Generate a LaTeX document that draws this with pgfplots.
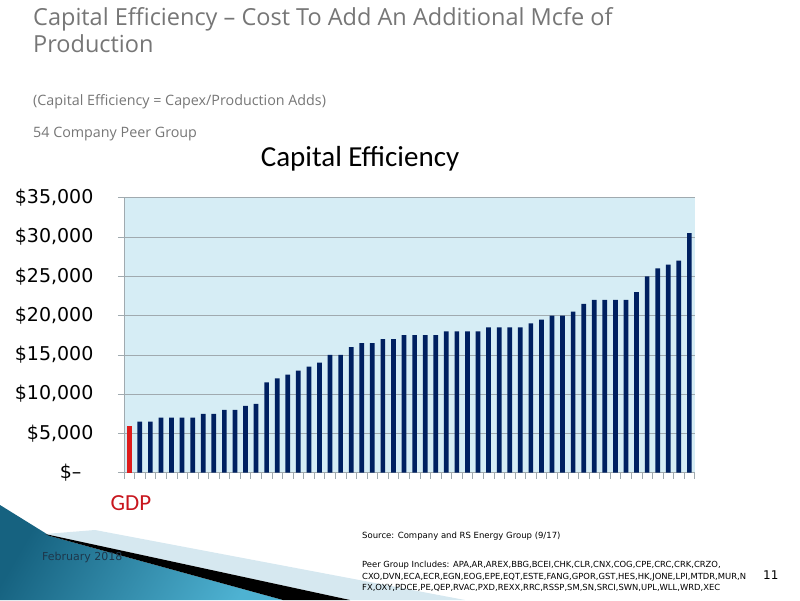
\documentclass[border=0pt]{standalone}
\usepackage{pgfplots}
\pgfplotsset{compat=1.18}
\usepackage{fontspec}
\setmainfont{DejaVu Sans}
\newfontfamily\titlefont{Open Sans}
\newfontfamily\calfont{Carlito}
\newfontfamily\tickfont{DejaVu Sans}

\definecolor{slidegray}{RGB}{118,118,118}
\definecolor{plotbg}{RGB}{214,237,245}
\definecolor{navybar}{RGB}{0,32,96}
\definecolor{gdpred}{RGB}{222,28,28}
\definecolor{gdptext}{RGB}{200,22,30}
\definecolor{gridgray}{RGB}{160,170,175}
\definecolor{tealdark}{RGB}{22,98,128}
\definecolor{teallight}{RGB}{78,178,210}
\definecolor{stripeblue}{RGB}{214,232,240}
\definecolor{datecol}{RGB}{30,55,75}

% GDP and peers, cost per Mcfe
\pgfplotstableread{
x y
1 5950
}\gdp
\pgfplotstableread{
x y
2 6500
3 6500
4 7000
5 7000
6 7000
7 7000
8 7500
9 7500
10 8000
11 8000
12 8500
13 8750
14 11500
15 12000
16 12500
17 13000
18 13500
19 14000
20 15000
21 15000
22 16000
23 16500
24 16500
25 17000
26 17000
27 17500
28 17500
29 17500
30 17500
31 18000
32 18000
33 18000
34 18000
35 18500
36 18500
37 18500
38 18500
39 19000
40 19500
41 20000
42 20000
43 20500
44 21500
45 22000
46 22000
47 22000
48 22000
49 23000
50 25000
51 26000
52 26500
53 27000
54 30500
}\peers

\begin{document}
\begin{tikzpicture}[x=1pt,y=1pt]
\path[use as bounding box] (0,0) rectangle (800,600);

% bottom-left swoosh
\shade[left color=tealdark, right color=teallight, shading angle=60]
  (0,95) -- (50,64) -- (283,0) -- (0,0) -- cycle;
\fill[stripeblue] (45,66) -- (95,70) -- (465,0) -- (350,0) -- cycle;
\fill[black] (45,66) -- (350,0) -- (283,0) -- (50,64) -- cycle;

% slide titles
\node[anchor=base west, inner sep=0, text=slidegray, font=\titlefont\fontsize{23.5}{26}\selectfont] at (33,574) {Capital Efficiency – Cost To Add An Additional Mcfe of};
\node[anchor=base west, inner sep=0, text=slidegray, font=\titlefont\fontsize{23.5}{26}\selectfont] at (33,547) {Production};
\node[anchor=base west, inner sep=0, text=slidegray, font=\titlefont\fontsize{14.3}{16}\selectfont] at (33,494) {(Capital Efficiency = Capex/Production Adds)};
\node[anchor=base west, inner sep=0, text=slidegray, font=\titlefont\fontsize{14.3}{16}\selectfont] at (33,462) {54 Company Peer Group};
\node[anchor=base, inner sep=0, font=\calfont\fontsize{29}{32}\selectfont] at (360,433) {Capital Efficiency};

\begin{axis}[
    at={(117.3,162)}, anchor=south west,
    scale only axis, width=570.7pt, height=275pt,
    xmin=0.5, xmax=54.5, ymin=0, ymax=35000,
    axis background/.style={fill=plotbg},
    axis line style={draw=none},
    xtick pos=left, ytick pos=left,
    tick align=outside, major tick length=6pt,
    tick style={gridgray, line width=0.6pt},
    xtick={0.5,1.5,...,54.5}, xticklabels={},
    ytick={0,5000,...,35000}, scaled y ticks=false,
    yticklabels={{\$–\hphantom{0}},{\$5,000},{\$10,000},{\$15,000},{\$20,000},{\$25,000},{\$30,000},{\$35,000}},
    yticklabel style={font=\tickfont\fontsize{19}{20}\selectfont, anchor=east, text=black, xshift=-21pt},
    ymajorgrids, grid style={gridgray, line width=0.7pt},
    ybar, bar width=4.7pt, bar shift=0pt,
]
\draw[gridgray, line width=0.7pt] (rel axis cs:0,1) -- (rel axis cs:0,0) -- (rel axis cs:1,0);
\addplot[fill=gdpred, draw=none] table {\gdp};
\addplot[fill=navybar, draw=none] table {\peers};
\end{axis}

% category label and footer
\node[anchor=base, inner sep=0, text=gdptext, font=\calfont\fontsize{23}{26}\selectfont] at (131,90) {GDP};
\node[anchor=base west, inner sep=0, text=datecol, font=\fontsize{11}{13}\selectfont] at (42,40) {February 2018};
\node[anchor=base west, inner sep=0, font=\fontsize{8.5}{10}\selectfont] at (362,62) {Source: Company and RS Energy Group (9/17)};
\node[anchor=base west, inner sep=0, font=\fontsize{8.4}{10}\selectfont] at (362,33) {Peer Group Includes: APA,AR,AREX,BBG,BCEI,CHK,CLR,CNX,COG,CPE,CRC,CRK,CRZO,};
\node[anchor=base west, inner sep=0, font=\fontsize{8.4}{10}\selectfont] at (362,21) {CXO,DVN,ECA,ECR,EGN,EOG,EPE,EQT,ESTE,FANG,GPOR,GST,HES,HK,JONE,LPI,MTDR,MUR,N};
\node[anchor=base west, inner sep=0, font=\fontsize{8.4}{10}\selectfont] at (362,10) {FX,OXY,PDCE,PE,QEP,RVAC,PXD,REXX,RRC,RSSP,SM,SN,SRCI,SWN,UPL,WLL,WRD,XEC};
\node[anchor=base west, inner sep=0, font=\fontsize{12}{14}\selectfont] at (763,21) {11};
\end{tikzpicture}
\end{document}
